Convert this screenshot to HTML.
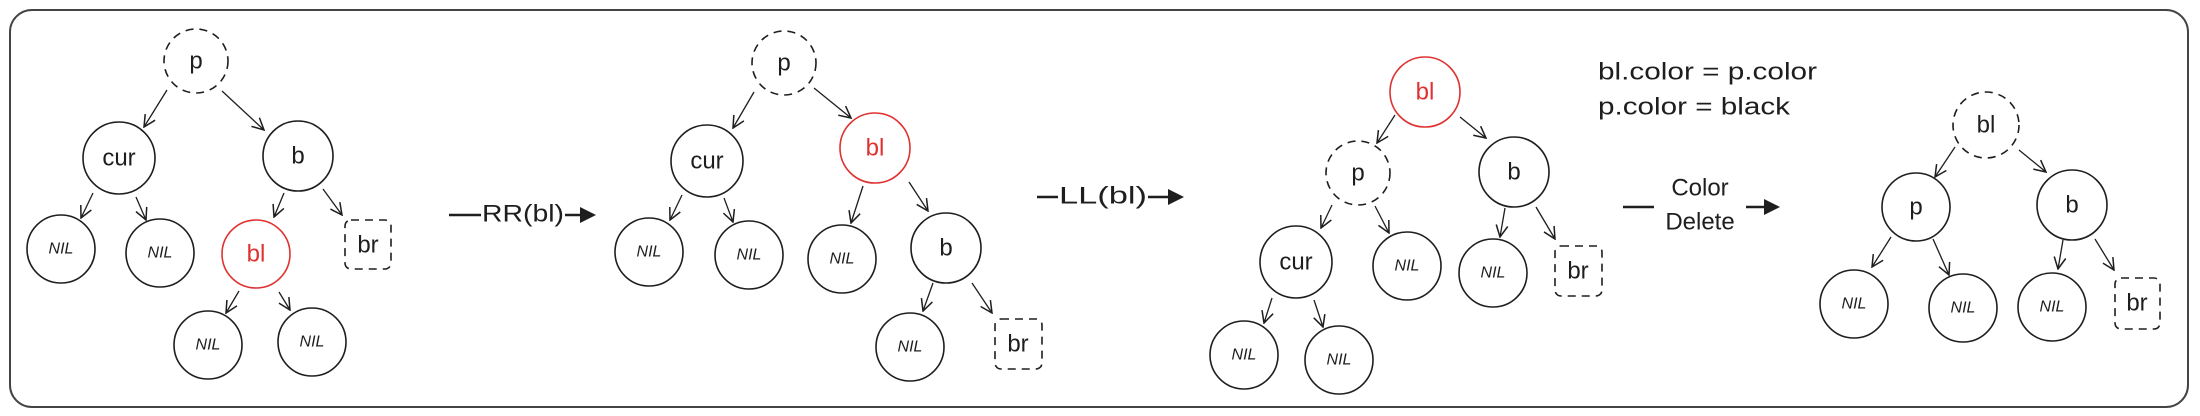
<!DOCTYPE html>
<html><head><meta charset="utf-8"><style>
html,body{margin:0;padding:0;background:#fff;width:2200px;height:416px;overflow:hidden}
svg{display:block}
text{font-family:"Liberation Sans",sans-serif;text-anchor:middle;dominant-baseline:central}
.n{font-size:24px;fill:#1e1e1e}
.s{font-size:16px;font-style:italic;fill:#1e1e1e}
.r{fill:#e03131}
</style></head><body>
<svg width="2200" height="416" viewBox="0 0 2200 416" xmlns="http://www.w3.org/2000/svg">
<defs>
<marker id="a" viewBox="0 0 12 12" refX="11" refY="6" markerWidth="14" markerHeight="14" markerUnits="userSpaceOnUse" orient="auto"><path d="M1,1 L11,6 L1,11" fill="none" stroke="#1e1e1e" stroke-width="1.3"/></marker>
</defs>
<rect x="10" y="10" width="2178" height="397" rx="22" fill="none" stroke="#444" stroke-width="2"/>
<g fill="none" stroke="#1e1e1e" stroke-width="1.6">
<circle cx="196" cy="61" r="32" stroke-dasharray="8 6"/>
<circle cx="119" cy="158" r="36"/>
<circle cx="298" cy="156" r="35"/>
<circle cx="61" cy="249" r="34"/>
<circle cx="160" cy="253" r="34"/>
<circle cx="256" cy="254" r="34" stroke="#e03131"/>
<rect x="345" y="220" width="46" height="49" rx="6" stroke-dasharray="8 6"/>
<circle cx="208" cy="345" r="34"/>
<circle cx="312" cy="342" r="34"/>
<circle cx="784" cy="63" r="32" stroke-dasharray="8 6"/>
<circle cx="707" cy="161" r="36"/>
<circle cx="875" cy="148" r="35" stroke="#e03131"/>
<circle cx="649" cy="252" r="34"/>
<circle cx="749" cy="255" r="34"/>
<circle cx="842" cy="259" r="34"/>
<circle cx="946" cy="248" r="35"/>
<circle cx="910" cy="347" r="34"/>
<rect x="995" y="319" width="47" height="50" rx="6" stroke-dasharray="8 6"/>
<circle cx="1425" cy="92" r="35" stroke="#e03131"/>
<circle cx="1358" cy="173" r="32" stroke-dasharray="8 6"/>
<circle cx="1514" cy="172" r="35"/>
<circle cx="1296" cy="262" r="36"/>
<circle cx="1407" cy="266" r="34"/>
<circle cx="1493" cy="273" r="34"/>
<rect x="1555" y="246" width="47" height="50" rx="6" stroke-dasharray="8 6"/>
<circle cx="1244" cy="355" r="34"/>
<circle cx="1339" cy="360" r="34"/>
<circle cx="1986" cy="125" r="33" stroke-dasharray="8 6"/>
<circle cx="1916" cy="207" r="34"/>
<circle cx="2072" cy="205" r="35"/>
<circle cx="1854" cy="304" r="34"/>
<circle cx="1963" cy="308" r="34"/>
<circle cx="2052" cy="307" r="34"/>
<rect x="2115" y="278" width="45" height="51" rx="6" stroke-dasharray="8 6"/>
</g>
<g stroke="#1e1e1e" stroke-width="1.3" marker-end="url(#a)">
<line x1="167" y1="90" x2="144" y2="127"/><line x1="222" y1="91" x2="264" y2="130"/>
<line x1="93" y1="193" x2="81" y2="218"/><line x1="136" y1="197" x2="146" y2="220"/>
<line x1="284" y1="193" x2="274" y2="217"/><line x1="323" y1="189" x2="342" y2="215"/>
<line x1="239" y1="291" x2="226" y2="313"/><line x1="279" y1="292" x2="290" y2="310"/>
<line x1="754" y1="92" x2="733" y2="128"/><line x1="814" y1="88" x2="851" y2="118"/>
<line x1="682" y1="195" x2="670" y2="220"/><line x1="724" y1="198" x2="733" y2="222"/>
<line x1="863" y1="186" x2="851" y2="223"/><line x1="909" y1="182" x2="928" y2="211"/>
<line x1="933" y1="283" x2="923" y2="311"/><line x1="972" y1="283" x2="992" y2="313"/>
<line x1="1395" y1="115" x2="1377" y2="143"/><line x1="1460" y1="117" x2="1486" y2="138"/>
<line x1="1332" y1="205" x2="1321" y2="228"/><line x1="1375" y1="206" x2="1389" y2="233"/>
<line x1="1505" y1="208" x2="1500" y2="237"/><line x1="1536" y1="207" x2="1555" y2="239"/>
<line x1="1272" y1="298" x2="1264" y2="323"/><line x1="1314" y1="300" x2="1323" y2="327"/>
<line x1="1955" y1="147" x2="1935" y2="177"/><line x1="2019" y1="150" x2="2046" y2="172"/>
<line x1="1891" y1="237" x2="1872" y2="267"/><line x1="1933" y1="239" x2="1949" y2="275"/>
<line x1="2063" y1="240" x2="2058" y2="269"/><line x1="2095" y1="239" x2="2114" y2="270"/>
</g>
<g stroke="#1e1e1e" stroke-width="2.5">
<line x1="449" y1="215" x2="481" y2="215"/><line x1="565" y1="215" x2="582" y2="215"/>
<line x1="1037" y1="197" x2="1058" y2="197"/><line x1="1148" y1="197" x2="1168" y2="197"/>
<line x1="1623" y1="207" x2="1654" y2="207"/><line x1="1746" y1="207" x2="1765" y2="207"/>
</g>
<g fill="#1e1e1e">
<polygon points="580,207 596,215 580,223"/>
<polygon points="1168,189 1184,197 1168,205"/>
<polygon points="1764,199 1780,207 1764,215"/>
</g>
<text x="523" y="214" class="n" textLength="82" lengthAdjust="spacingAndGlyphs">RR(bl)</text>
<text x="1103" y="196" class="n" textLength="88" lengthAdjust="spacingAndGlyphs">LL(bl)</text>
<text x="1700" y="188" class="n">Color</text>
<text x="1700" y="222" class="n">Delete</text>
<text x="1598" y="72" class="n" style="text-anchor:start" textLength="219" lengthAdjust="spacingAndGlyphs">bl.color = p.color</text>
<text x="1598" y="107" class="n" style="text-anchor:start" textLength="192" lengthAdjust="spacingAndGlyphs">p.color = black</text>
<text x="196" y="61" class="n">p</text><text x="119" y="158" class="n">cur</text><text x="298" y="156" class="n">b</text>
<text x="61" y="249" class="s">NIL</text><text x="160" y="253" class="s">NIL</text><text x="256" y="254" class="n r">bl</text>
<text x="368" y="245" class="n">br</text><text x="208" y="345" class="s">NIL</text><text x="312" y="342" class="s">NIL</text>
<text x="784" y="63" class="n">p</text><text x="707" y="161" class="n">cur</text><text x="875" y="148" class="n r">bl</text>
<text x="649" y="252" class="s">NIL</text><text x="749" y="255" class="s">NIL</text><text x="842" y="259" class="s">NIL</text>
<text x="946" y="248" class="n">b</text><text x="910" y="347" class="s">NIL</text><text x="1018" y="344" class="n">br</text>
<text x="1425" y="92" class="n r">bl</text><text x="1358" y="173" class="n">p</text><text x="1514" y="172" class="n">b</text>
<text x="1296" y="262" class="n">cur</text><text x="1407" y="266" class="s">NIL</text><text x="1493" y="273" class="s">NIL</text>
<text x="1578" y="271" class="n">br</text><text x="1244" y="355" class="s">NIL</text><text x="1339" y="360" class="s">NIL</text>
<text x="1986" y="125" class="n">bl</text><text x="1916" y="207" class="n">p</text><text x="2072" y="205" class="n">b</text>
<text x="1854" y="304" class="s">NIL</text><text x="1963" y="308" class="s">NIL</text><text x="2052" y="307" class="s">NIL</text>
<text x="2137" y="303" class="n">br</text>
</svg>
</body></html>
